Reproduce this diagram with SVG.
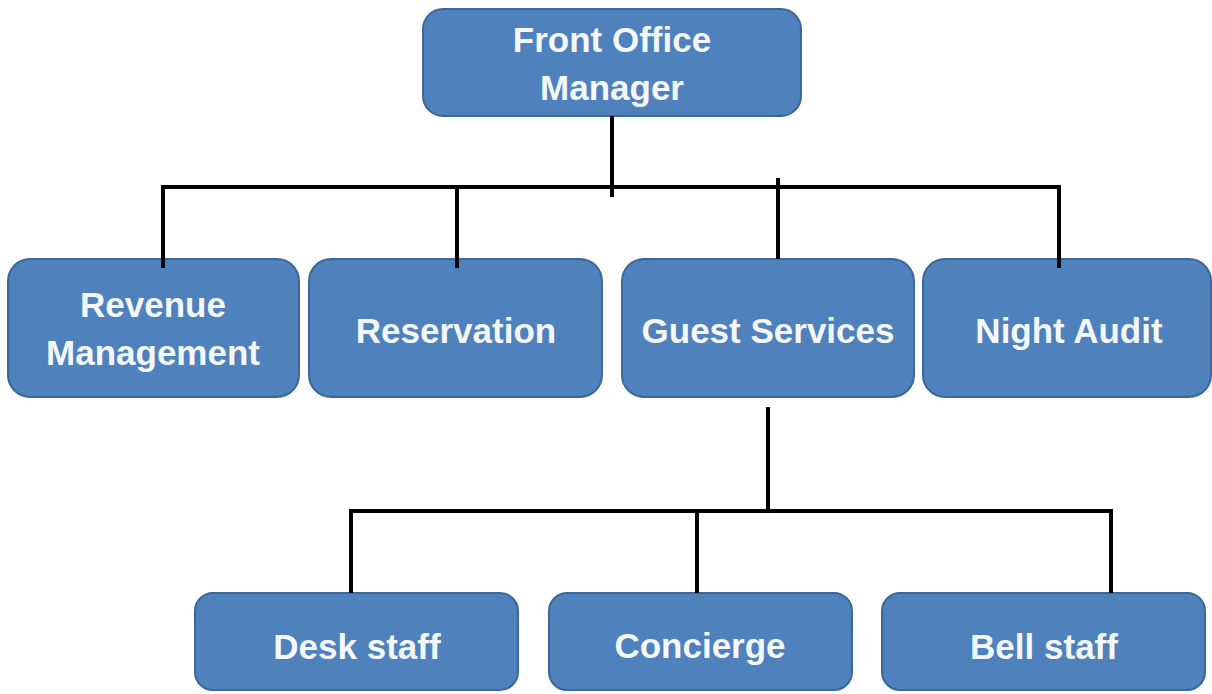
<svg xmlns="http://www.w3.org/2000/svg" width="1212" height="694" viewBox="0 0 1212 694">
  <style>
    .box { fill: #4f81bd; stroke: #3b679a; stroke-width: 2; }
    .lbl { font-family: "Liberation Sans", Arial, sans-serif; font-weight: bold; font-size: 35px; fill: #f4f8fc; text-anchor: middle; }
    .conn { fill: none; stroke: #000; stroke-width: 4; stroke-linecap: butt; stroke-linejoin: miter; }
  </style>
  <rect width="1212" height="694" fill="#ffffff"/>
  <g id="front-office-manager">
    <rect class="box" x="423" y="9" width="378" height="107" rx="20"/>
    <text class="lbl" x="612" y="52">Front Office</text>
    <text class="lbl" x="612" y="100">Manager</text>
  </g>
  <g id="revenue-management">
    <rect class="box" x="8" y="259" width="291" height="138" rx="22"/>
    <text class="lbl" x="153" y="317">Revenue</text>
    <text class="lbl" x="153" y="365">Management</text>
  </g>
  <g id="reservation">
    <rect class="box" x="309" y="259" width="293" height="138" rx="22"/>
    <text class="lbl" x="456" y="343">Reservation</text>
  </g>
  <g id="guest-services">
    <rect class="box" x="622" y="259" width="292" height="138" rx="22"/>
    <text class="lbl" x="768" y="343">Guest Services</text>
  </g>
  <g id="night-audit">
    <rect class="box" x="923" y="259" width="288" height="138" rx="22"/>
    <text class="lbl" x="1069" y="343">Night Audit</text>
  </g>
  <g id="desk-staff">
    <rect class="box" x="195" y="593" width="323" height="97" rx="18"/>
    <text class="lbl" x="357" y="659">Desk staff</text>
  </g>
  <g id="concierge">
    <rect class="box" x="549" y="593" width="303" height="97" rx="18"/>
    <text class="lbl" x="700" y="658">Concierge</text>
  </g>
  <g id="bell-staff">
    <rect class="box" x="882" y="593" width="323" height="97" rx="18"/>
    <text class="lbl" x="1044" y="659">Bell staff</text>
  </g>
  <g id="connectors">
    <line class="conn" x1="612" y1="116" x2="612" y2="197"/>
    <path class="conn" d="M163,268 V187 H1059 V268"/>
    <line class="conn" x1="457" y1="187" x2="457" y2="268"/>
    <line class="conn" x1="778" y1="178" x2="778" y2="259"/>
    <line class="conn" x1="768" y1="407" x2="768" y2="511"/>
    <path class="conn" d="M351,593 V511 H1111 V593"/>
    <line class="conn" x1="697" y1="511" x2="697" y2="593"/>
  </g>
</svg>
